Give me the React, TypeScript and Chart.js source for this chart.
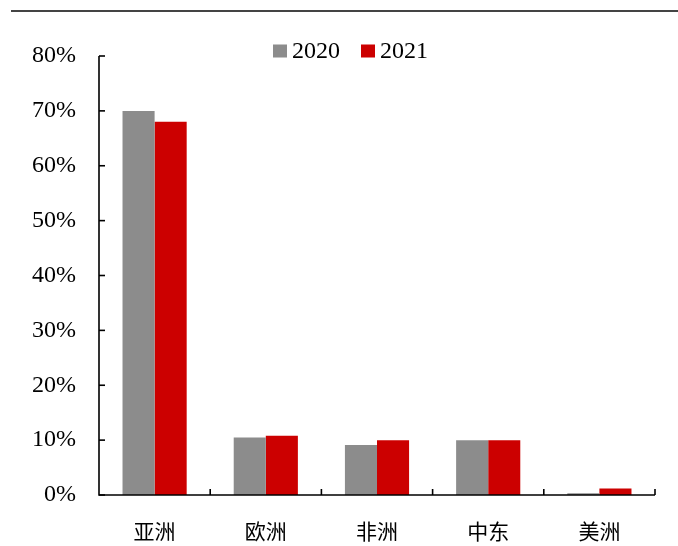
import React, { useEffect, useRef } from "react";
import { Chart, registerables } from "chart.js";

Chart.register(...registerables);

const categories = ["亚洲", "欧洲", "非洲", "中东", "美洲"];
const series2020 = [70, 10.5, 9.1, 10, 0.3];
const series2021 = [68, 10.8, 10, 10, 1.2];
const seriesLabels = ["2020", "2021"];
const seriesColors = ["#8C8C8C", "#CC0000"];
const yTicks = { min: 0, max: 80, step: 10 };

const SERIF = "'Liberation Serif', 'Times New Roman', serif";
const CJK = "'Noto Sans CJK SC', sans-serif";

const axesPlugin = {
  id: "customAxes",
  afterDraw(chart: any) {
    const { ctx, chartArea, scales } = chart;
    const { left, right, top, bottom } = chartArea;
    const x = scales.x;
    const y = scales.y;
    ctx.save();
    ctx.strokeStyle = "#000";
    ctx.lineWidth = 1.6;
    ctx.beginPath();
    ctx.moveTo(left, top);
    ctx.lineTo(left, bottom);
    ctx.lineTo(right, bottom);
    ctx.stroke();
    y.ticks.forEach((t: any) => {
      const py = y.getPixelForValue(t.value);
      ctx.beginPath();
      ctx.moveTo(left, py);
      ctx.lineTo(left + 6, py);
      ctx.stroke();
    });
    const n = categories.length;
    for (let i = 1; i <= n; i++) {
      const px =
        i < n
          ? (x.getPixelForValue(i - 1) + x.getPixelForValue(i)) / 2
          : right;
      ctx.beginPath();
      ctx.moveTo(px, bottom);
      ctx.lineTo(px, bottom - 6);
      ctx.stroke();
    }
    ctx.restore();
  },
};

const legendPlugin = {
  id: "customLegend",
  afterDraw(chart: any) {
    const { ctx } = chart;
    ctx.save();
    ctx.font = `24px ${SERIF}`;
    ctx.textBaseline = "middle";
    ctx.textAlign = "left";
    let cx = 273;
    const cy = 51;
    const box = 13;
    chart.data.datasets.forEach((ds: any) => {
      ctx.fillStyle = ds.backgroundColor;
      ctx.fillRect(cx, cy - box / 2, box + 1, box);
      cx += box + 6;
      ctx.fillStyle = "#000";
      ctx.fillText(ds.label, cx, cy + 1);
      cx += ctx.measureText(ds.label).width + 21;
    });
    ctx.restore();
  },
};

export default function App() {
  const ref = useRef<HTMLCanvasElement | null>(null);

  useEffect(() => {
    if (!ref.current) return;
    const chart = new Chart(ref.current, {
      type: "bar",
      data: {
        labels: categories,
        datasets: [
          {
            label: seriesLabels[0],
            data: series2020,
            backgroundColor: seriesColors[0],
            categoryPercentage: 0.577,
            barPercentage: 1,
          },
          {
            label: seriesLabels[1],
            data: series2021,
            backgroundColor: seriesColors[1],
            categoryPercentage: 0.577,
            barPercentage: 1,
          },
        ],
      },
      options: {
        animation: false,
        responsive: false,
        layout: { padding: { left: 0, right: 23, top: 56, bottom: 0 } },
        plugins: {
          legend: { display: false },
          tooltip: { enabled: false },
        },
        scales: {
          x: {
            grid: { display: false, drawTicks: false },
            border: { display: false },
            ticks: {
              color: "#000",
              font: { family: CJK, size: 21 },
              padding: 23,
              maxRotation: 0,
            },
            afterFit(scale: any) {
              scale.height = 51;
            },
          },
          y: {
            min: yTicks.min,
            max: yTicks.max,
            grid: { display: false, drawTicks: false },
            border: { display: false },
            ticks: {
              stepSize: yTicks.step,
              color: "#000",
              font: { family: SERIF, size: 24 },
              padding: 23,
              callback: (v: any) => `${v}%`,
            },
            afterFit(scale: any) {
              scale.width = 99;
            },
          },
        },
      },
      plugins: [axesPlugin, legendPlugin],
    });
    return () => chart.destroy();
  }, []);

  return (
    <div
      style={{
        position: "absolute",
        left: 0,
        top: 0,
        width: 678,
        height: 546,
        background: "#fff",
      }}
    >
      <div
        style={{
          position: "absolute",
          left: 11,
          right: 0,
          top: 10,
          height: 2,
          background: "#444",
        }}
      />
      <canvas
        ref={ref}
        width={678}
        height={546}
        style={{ position: "absolute", left: 0, top: 0, width: 678, height: 546 }}
      />
    </div>
  );
}
